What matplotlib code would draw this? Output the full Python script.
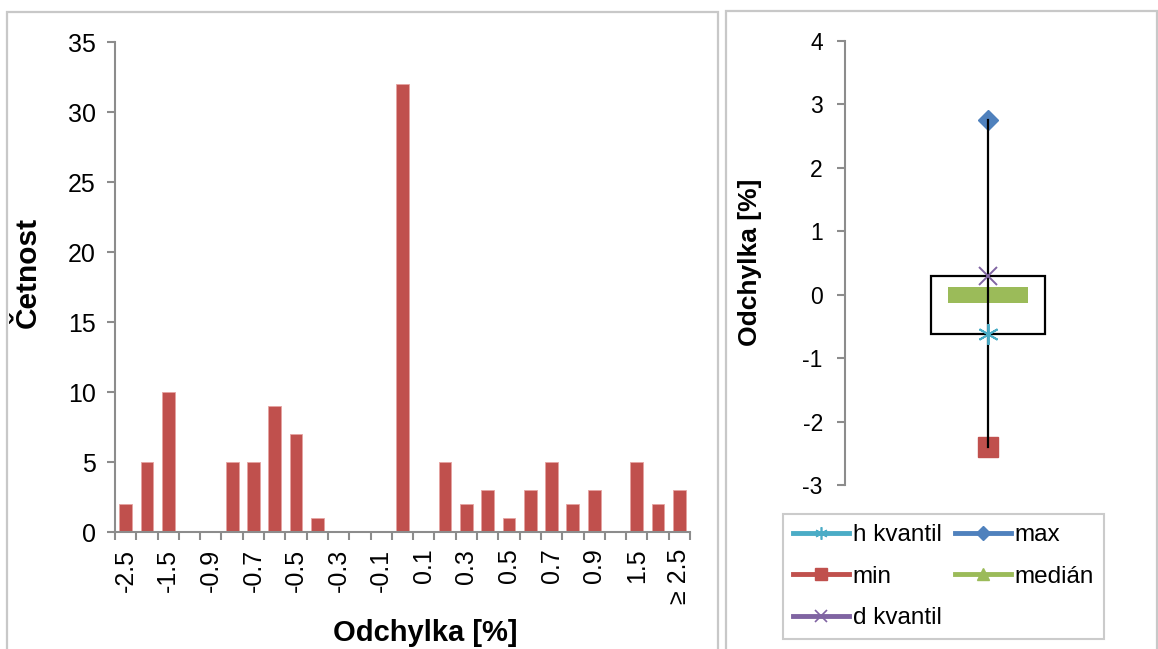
import matplotlib
matplotlib.use("Agg")
import matplotlib.pyplot as plt
from matplotlib.patches import Rectangle
from matplotlib.lines import Line2D
import numpy as np

plt.rcParams['font.family'] = ['Liberation Sans', 'DejaVu Sans']
plt.rcParams['axes.unicode_minus'] = False

# histogram data
categories = ['-2.5', '-2', '-1.5', '-1', '-0.9', '-0.8', '-0.7', '-0.6', '-0.5', '-0.4',
              '-0.3', '-0.2', '-0.1', '0', '0.1', '0.2', '0.3', '0.4', '0.5', '0.6',
              '0.7', '0.8', '0.9', '1', '1.5', '2', '≥ 2.5']
counts = [2, 5, 10, 0, 0, 5, 5, 9, 7, 1,
          0, 0, 0, 32, 0, 5, 2, 3, 1, 3,
          5, 2, 3, 0, 5, 2, 3]

# box chart data
h_kvantil = -0.62
max_val = 2.76
min_val = -2.40
median = 0.0
d_kvantil = 0.29

bar_red = '#c0504d'
cyan = '#4bacc6'
blue = '#4f81bd'
green = '#9bbb59'
purple = '#8064a2'
spine_gray = '#8c8c8c'

W, H = 1158, 649
fig = plt.figure(figsize=(W / 100, H / 100), dpi=100)

# panel borders
for (x0, y0, x1) in [(7, 12, 718), (726, 11, 1157)]:
    fig.patches.append(Rectangle((x0 / W, -0.05), (x1 - x0) / W, 1 - y0 / H + 0.05,
                                 transform=fig.transFigure, fill=False,
                                 edgecolor='#c8c8c8', linewidth=1.6))

# ---- left: histogram ----
ax = fig.add_axes([115 / W, 1 - 532 / H, (690 - 115) / W, (532 - 42) / H])
x = np.arange(len(categories))
ax.bar(x, counts, width=0.6, color=bar_red, edgecolor='#e6a3a1', linewidth=0.6)
ax.set_xlim(-0.5, len(categories) - 0.5)
ax.set_ylim(0, 35)
ax.set_yticks(range(0, 36, 5))
ax.set_xticks(x[::2])
ax.set_xticklabels(categories[::2], rotation=90, va='top', ha='center')
ax.set_xticks(np.arange(-0.5, len(categories), 1), minor=True)
ax.tick_params(axis='x', which='major', length=0, labelsize=18, pad=12)
ax.tick_params(axis='x', which='minor', length=6, width=1.5, color=spine_gray)
ax.tick_params(axis='y', length=6, width=1.5, color=spine_gray, labelsize=18, pad=8)
for s in ['top', 'right']:
    ax.spines[s].set_visible(False)
for s in ['left', 'bottom']:
    ax.spines[s].set_color(spine_gray)
    ax.spines[s].set_linewidth(1.5)
ax.set_ylabel('Četnost', fontsize=21.5, fontweight='bold')
ax.yaxis.set_label_coords(-0.127, 0.53)
ax.set_xlabel('Odchylka [%]', fontsize=21, fontweight='bold')
ax.xaxis.set_label_coords(0.54, -0.178)

# ---- right: box chart ----
bx = fig.add_axes([845 / W, 1 - 485 / H, (1130 - 845) / W, (485 - 41) / H])
bx.set_xlim(-0.5, 0.5)
bx.set_ylim(-3, 4)
bx.set_yticks(range(-3, 5))
bx.set_xticks([])
bx.bar(0, d_kvantil - h_kvantil, bottom=h_kvantil, width=0.4, fill=False,
       edgecolor='black', linewidth=1.6, zorder=1)
rect_marker = [(-5, -1), (5, -1), (5, 1), (-5, 1), (-5, -1)]
bx.plot([0], [median], marker=rect_marker, markersize=58, color=green,
        markeredgewidth=0, linestyle='none', zorder=2)
bx.plot([0], [max_val], marker='D', markersize=10.5, color=blue, linestyle='none', zorder=3)
bx.plot([0], [min_val], marker='s', markersize=15, color=bar_red, linestyle='none', zorder=3)
bx.plot([0, 0], [min_val, max_val], color='black', linewidth=1.6, zorder=4)
bx.plot([0], [h_kvantil], marker=(6, 2, 0), markersize=15, markeredgewidth=1.4,
        color=cyan, linestyle='none', zorder=5)
bx.plot([0], [d_kvantil], marker='x', markersize=13, markeredgewidth=1.4,
        color=purple, linestyle='none', zorder=5)
for s in ['top', 'right', 'bottom']:
    bx.spines[s].set_visible(False)
bx.spines['left'].set_color(spine_gray)
bx.spines['left'].set_linewidth(1.5)
bx.tick_params(axis='y', length=6, width=1.5, color=spine_gray, labelsize=16.5, pad=10)
bx.set_ylabel('Odchylka [%]', fontsize=19, fontweight='bold')
bx.yaxis.set_label_coords(-0.29, 0.502)

handles = [
    Line2D([], [], color=cyan, lw=3.5, marker=(6, 2, 0), markersize=9, markeredgewidth=1.2),
    Line2D([], [], color=bar_red, lw=3.5, marker='s', markersize=9),
    Line2D([], [], color=purple, lw=3.5, marker='x', markersize=8, markeredgewidth=1.2),
    Line2D([], [], color=blue, lw=3.5, marker='D', markersize=7),
    Line2D([], [], color=green, lw=3.5, marker='^', markersize=8),
]
labels = ['h kvantil', 'min', 'd kvantil', 'max', 'medián']
leg = fig.legend(handles, labels, ncol=2, loc='upper left',
                 bbox_to_anchor=(783 / W, 1 - 514 / H), fontsize=17.5,
                 frameon=True, fancybox=False, edgecolor='#bfbfbf',
                 handlelength=2.3, handletextpad=0.15, columnspacing=0.55,
                 labelspacing=0.8, borderpad=0.42, borderaxespad=0)
leg.get_frame().set_linewidth(1.5)

fig.savefig('out.png', dpi=100)
